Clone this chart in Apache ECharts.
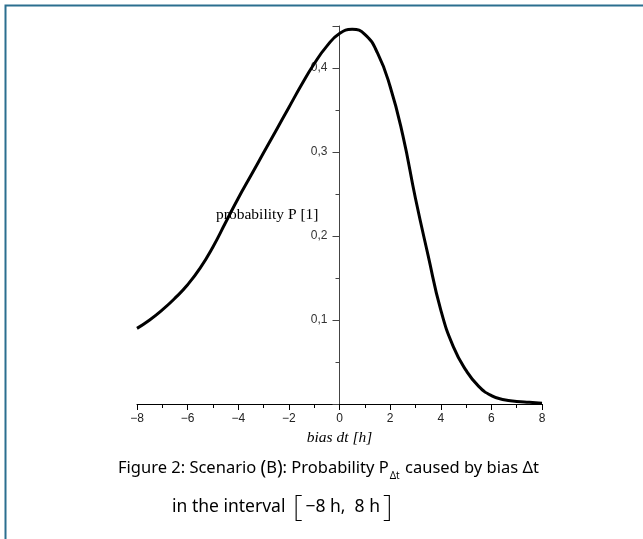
<!DOCTYPE html>
<html><head><meta charset="utf-8">
<script src="https://cdn.jsdelivr.net/npm/echarts@6/dist/echarts.min.js"></script>
<style>html,body{margin:0;padding:0;background:#fff}#c{width:643px;height:539px}</style>
</head><body><div id="c"></div>
<script>
var biasHours = [-8,-7.5,-7,-6.5,-6,-5.5,-5,-4.5,-4,-3.5,-3,-2.5,-2,-1.5,-1,-0.5,0,0.5,1,1.5,2,2.5,3,3.5,4,4.5,5,5.5,6,6.5,7,7.5,8];
var probability = [0.090,0.100,0.112,0.126,0.142,0.162,0.187,0.216,0.245,0.272,0.299,0.326,0.353,0.380,0.405,0.426,0.441,0.446,0.440,0.418,0.378,0.320,0.245,0.177,0.112,0.068,0.040,0.021,0.010,0.005,0.003,0.002,0.001];
var xTickLabels = {"-8":"−8","-6":"−6","-4":"−4","-2":"−2","0":"0","2":"2","4":"4","6":"6","8":"8"};
var yTickLabels = {"0.1":"0,1","0.2":"0,2","0.3":"0,3","0.4":"0,4"};

var chart = echarts.init(document.getElementById('c'), null, {renderer:'canvas'});
var pts = biasHours.map(function(x,i){return [x, probability[i]];});
var gridLeft = 137, gridRight = 101, W = 643;
var gridW = W - gridLeft - gridRight;
var yOffset = -gridW * (0 - (-8)) / 16;
chart.setOption({
  animation:false,
  backgroundColor:'#fff',
  grid:{left:gridLeft,right:gridRight,top:26,bottom:135},
  xAxis:{type:'value',min:-8,max:8,interval:2,
    name:'bias dt [h]',nameLocation:'middle',nameGap:26,nameMoveOverlap:false,
    nameTextStyle:{fontFamily:'Liberation Serif',fontStyle:'italic',fontSize:15.5,color:'#000'},
    axisLine:{onZero:true,lineStyle:{color:'#000',width:1}},
    axisTick:{show:true,length:6,lineStyle:{color:'#000'}},
    minorTick:{show:true,splitNumber:2,length:4,lineStyle:{color:'#000'}},
    splitLine:{show:false},
    axisLabel:{margin:9,fontFamily:'Liberation Sans',fontSize:12,color:'#222',
      formatter:function(v){var k=String(Math.round(v));return xTickLabels[k]!==undefined?xTickLabels[k]:'';}}
  },
  yAxis:{type:'value',min:0,max:0.45,interval:0.1,offset:yOffset,
    name:'probability P [1]',nameLocation:'middle',nameRotate:0,nameGap:21,nameMoveOverlap:false,
    nameTextStyle:{fontFamily:'Liberation Serif',fontSize:15.5,color:'#000',padding:[0,0,6,0]},
    axisLine:{onZero:false,lineStyle:{color:'#444',width:1}},
    axisTick:{show:true,length:7,lineStyle:{color:'#444'}},
    minorTick:{show:true,splitNumber:2,length:4,lineStyle:{color:'#444'}},
    splitLine:{show:false},
    axisLabel:{margin:12,fontFamily:'Liberation Sans',fontSize:12,color:'#333',
      formatter:function(v){var k=String(Math.round(v*10)/10);return (Math.abs(v*10-Math.round(v*10))<1e-6 && yTickLabels[k])?yTickLabels[k]:'';}}
  },
  series:[{type:'line',data:pts,smooth:true,showSymbol:false,silent:true,z:5,
    lineStyle:{color:'#000',width:3}}],
  graphic:[
    {type:'polyline',shape:{points:[[5.5,539],[5.5,5.5],[643,5.5]]},style:{stroke:'#2b6f8f',lineWidth:2,fill:null},silent:true},
    {type:'text',left:118,top:456,style:{
      text:'{a|Figure 2: Scenario }{p|(}{a|B}{p|)}{a|: Probability P}{s|Δt}{a| caused by bias Δt}',
      rich:{a:{fontFamily:'Noto Sans',fontSize:16.5,color:'#111',lineHeight:24,verticalAlign:'middle'},
            p:{fontFamily:'Noto Sans',fontSize:19,color:'#111',lineHeight:24,verticalAlign:'middle'},
            s:{fontFamily:'Noto Sans',fontSize:10,color:'#111',lineHeight:24,padding:[15,1,0,1],verticalAlign:'middle'}}}},
    {type:'text',left:172,top:492,style:{
      text:'{a|in the interval }{b|[}{a|−8 h,  8 h}{b|]}',
      rich:{a:{fontFamily:'Noto Sans',fontSize:17.5,color:'#111',lineHeight:30,verticalAlign:'middle'},
            b:{fontFamily:'Noto Sans',fontSize:30,fontWeight:200,color:'#111',lineHeight:30,padding:[0,3,0,3],verticalAlign:'middle'}}}}
  ]
});
</script></body></html>
